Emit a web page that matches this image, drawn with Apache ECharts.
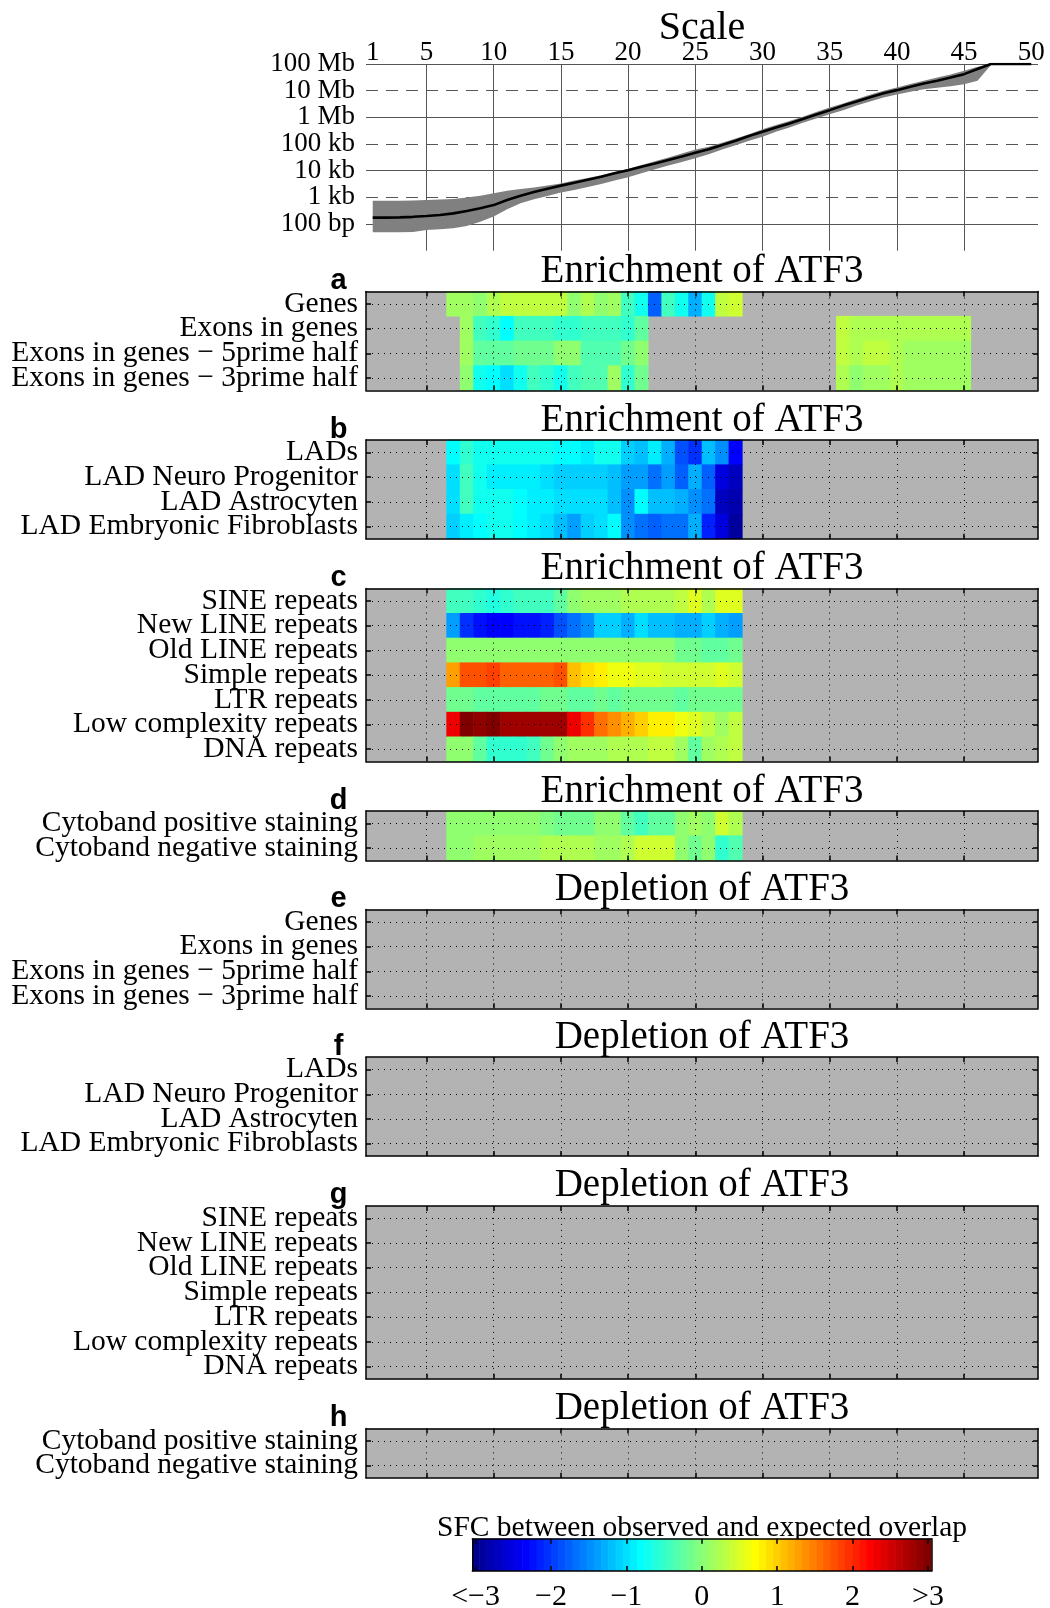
<!DOCTYPE html>
<html>
<head>
<meta charset="utf-8">
<script src="https://cdn.jsdelivr.net/npm/echarts@6/dist/echarts.min.js"></script>
<style>
html,body{margin:0;padding:0;background:#ffffff;}
#chart{width:1050px;height:1608px;}
</style>
</head>
<body>
<div id="chart"></div>
<script>
const _ = null;

// ---------- Scale panel data ----------
const binIndex = [1,2,3,4,5,6,7,8,9,10,11,12,13,14,15,16,17,18,19,20,21,22,23,24,25,26,27,28,29,30,31,32,33,34,35,36,37,38,39,40,41,42,43,44,45,46,47,48,49,50];
const topTickValues = [1,5,10,15,20,25,30,35,40,45,50];
const gridTickValues = [5,10,15,20,25,30,35,40,45];
const sizeTickExp = [2,3,4,5,6,7,8];
const sizeTickLabels = ['100 bp','1 kb','10 kb','100 kb','1 Mb','10 Mb','100 Mb'];
// log10(bp)
const medianLog10 = [2.24,2.24,2.25,2.27,2.30,2.34,2.40,2.49,2.59,2.71,
  2.90,3.06,3.20,3.32,3.44,3.55,3.66,3.77,3.90,4.02,
  4.15,4.27,4.40,4.53,4.67,4.80,4.96,5.12,5.30,5.46,
  5.62,5.77,5.94,6.11,6.27,6.44,6.59,6.75,6.90,7.02,
  7.15,7.27,7.37,7.49,7.62,7.81,8.00,8.00,8.00,8.00];
const upperLog10 = [2.87,2.87,2.87,2.88,2.90,2.92,2.94,2.99,3.06,3.15,
  3.25,3.31,3.37,3.44,3.52,3.63,3.73,3.83,3.95,4.07,
  4.21,4.35,4.49,4.64,4.79,4.90,5.05,5.21,5.37,5.55,
  5.71,5.86,6.02,6.20,6.37,6.52,6.69,6.85,7.00,7.12,
  7.25,7.37,7.49,7.61,7.75,7.90,8.00,8.00,8.00,8.00];
const lowerLog10 = [1.69,1.69,1.69,1.70,1.78,1.80,1.84,1.93,2.09,2.28,
  2.55,2.78,2.93,3.05,3.18,3.28,3.39,3.50,3.63,3.75,
  3.90,4.05,4.19,4.33,4.47,4.62,4.79,4.95,5.12,5.27,
  5.46,5.62,5.80,5.96,6.12,6.27,6.44,6.59,6.74,6.86,
  6.96,7.05,7.11,7.17,7.24,7.37,7.96,8.00,8.00,8.00];

// ---------- Row labels ----------
const labelsGenes = ['Genes','Exons in genes','Exons in genes \u2212 5prime half','Exons in genes \u2212 3prime half'];
const labelsLAD = ['LADs','LAD Neuro Progenitor','LAD Astrocyten','LAD Embryonic Fibroblasts'];
const labelsRepeats = ['SINE repeats','New LINE repeats','Old LINE repeats','Simple repeats','LTR repeats','Low complexity repeats','DNA repeats'];
const labelsCyto = ['Cytoband positive staining','Cytoband negative staining'];

// ---------- Enrichment values (SFC), null = not significant ----------
const enrGenes = [_,_,_,_,_, _,0.1,0.1,0.0,0.2, 0.3,0.3,0.3,0.3,0.3, 0.0,0.25,0.05,0.1,-0.4, -0.75,-1.7,-0.4,-0.75,-1.3, -0.75,0.35,0.45,_,_, _,_,_,_,_, _,_,_,_,_, _,_,_,_,_, _,_,_,_,_];
const enrExons = [_,_,_,_,_, _,_,0.1,-0.4,-0.55, -0.8,-0.4,-0.4,-0.4,-0.5, -0.55,-0.4,-0.4,-0.4,-0.55, -0.2,_,_,_,_, _,_,_,_,_, _,_,_,_,_, 0.3,0.25,0.25,0.25,0.25, 0.2,0.2,0.2,0.2,0.2, _,_,_,_,_];
const enrExons5 = [_,_,_,_,_, _,_,0.1,-0.2,-0.2, -0.2,-0.15,-0.15,-0.1,0.0, 0.0,-0.3,-0.3,-0.3,-0.1, 0.05,_,_,_,_, _,_,_,_,_, _,_,_,_,_, 0.3,0.2,0.3,0.3,0.25, 0.15,0.15,0.15,0.15,0.15, _,_,_,_,_];
const enrExons3 = [_,_,_,_,_, _,_,0.0,-0.75,-0.8, -1.0,-0.75,-0.45,-0.5,-0.75, -0.45,-0.35,-0.3,0.1,-0.5, -0.1,_,_,_,_, _,_,_,_,_, _,_,_,_,_, 0.2,0.05,0.1,0.15,0.2, 0.1,0.15,0.15,0.15,0.15, _,_,_,_,_];

const enrLADs = [_,_,_,_,_, _,-0.8,-0.55,-0.75,-0.75, -0.75,-0.75,-0.75,-0.75,-0.8, -0.8,-0.85,-0.75,-0.75,-1.1, -1.2,-0.9,-1.3,-1.85,-2.0, -1.2,-1.5,-2.3,_,_, _,_,_,_,_, _,_,_,_,_, _,_,_,_,_, _,_,_,_,_];
const enrLADNeuro = [_,_,_,_,_, _,-1.0,-0.45,-0.7,-0.9, -0.9,-0.9,-0.9,-0.95,-1.05, -1.05,-1.1,-1.1,-1.2,-1.4, -1.4,-1.6,-1.4,-1.7,-1.3, -1.7,-2.45,-2.7,_,_, _,_,_,_,_, _,_,_,_,_, _,_,_,_,_, _,_,_,_,_];
const enrLADAstro = [_,_,_,_,_, _,-1.0,-0.45,-0.7,-0.75, -0.75,-0.8,-0.85,-0.9,-1.0, -1.0,-1.0,-1.0,-1.2,-1.5, -0.8,-1.15,-1.15,-1.3,-1.5, -1.6,-2.65,-2.8,_,_, _,_,_,_,_, _,_,_,_,_, _,_,_,_,_, _,_,_,_,_];
const enrLADFibro = [_,_,_,_,_, _,-1.05,-0.9,-0.8,-0.75, -0.75,-0.8,-0.9,-1.0,-1.15, -1.4,-1.1,-0.95,-0.8,-1.5, -1.6,-1.7,-1.6,-1.6,-1.3, -2.1,-2.45,-2.9,_,_, _,_,_,_,_, _,_,_,_,_, _,_,_,_,_, _,_,_,_,_];

const enrSINE = [_,_,_,_,_, _,-0.4,-0.4,-0.55,-0.6, -0.55,-0.45,-0.45,-0.4,-0.2, 0.0,0.1,0.15,0.15,0.2, 0.2,0.25,0.25,0.35,0.55, 0.25,0.55,0.55,_,_, _,_,_,_,_, _,_,_,_,_, _,_,_,_,_, _,_,_,_,_];
const enrNewLINE = [_,_,_,_,_, _,-1.4,-2.0,-2.2,-2.3, -2.3,-2.2,-2.25,-2.1,-1.85, -1.6,-1.5,-1.05,-1.05,-1.3, -1.0,-1.15,-1.15,-1.3,-1.3, -1.1,-1.25,-1.35,_,_, _,_,_,_,_, _,_,_,_,_, _,_,_,_,_, _,_,_,_,_];
const enrOldLINE = [_,_,_,_,_, _,0.05,0.05,0.05,0.05, 0.05,0.05,0.05,0.05,0.05, 0.05,0.05,0.05,0.05,0.0, 0.0,0.0,0.0,-0.1,-0.15, -0.2,-0.2,-0.1,_,_, _,_,_,_,_, _,_,_,_,_, _,_,_,_,_, _,_,_,_,_];
const enrSimple = [_,_,_,_,_, _,1.3,1.7,1.75,1.8, 1.6,1.6,1.6,1.6,1.7, 1.1,0.85,0.75,0.65,0.6, 0.5,0.5,0.45,0.45,0.4, 0.45,0.5,0.4,_,_, _,_,_,_,_, _,_,_,_,_, _,_,_,_,_, _,_,_,_,_];
const enrLTR = [_,_,_,_,_, _,-0.1,-0.15,-0.2,-0.2, -0.2,-0.2,-0.2,-0.15,-0.1, -0.2,-0.2,-0.15,-0.2,-0.15, -0.1,-0.15,-0.15,-0.2,-0.1, -0.15,-0.1,-0.1,_,_, _,_,_,_,_, _,_,_,_,_, _,_,_,_,_, _,_,_,_,_];
const enrLowCx = [_,_,_,_,_, _,2.25,3.0,2.9,2.95, 2.8,2.8,2.8,2.8,2.75, 2.25,1.9,1.55,1.4,1.2, 1.0,0.8,0.75,0.6,0.5, 0.35,0.1,0.3,_,_, _,_,_,_,_, _,_,_,_,_, _,_,_,_,_, _,_,_,_,_];
const enrDNA = [_,_,_,_,_, _,0.05,0.0,-0.2,-0.55, -0.55,-0.55,-0.4,-0.1,0.05, 0.15,0.15,0.15,0.2,0.25, 0.25,0.3,0.3,0.1,-0.2, 0.1,0.25,0.3,_,_, _,_,_,_,_, _,_,_,_,_, _,_,_,_,_, _,_,_,_,_];

const enrCytoPos = [_,_,_,_,_, _,0.05,0.05,0.0,0.0, 0.0,0.0,0.0,-0.05,-0.1, -0.1,-0.1,0.05,0.05,-0.25, -0.4,-0.25,-0.25,0.05,0.15, 0.0,0.4,0.25,_,_, _,_,_,_,_, _,_,_,_,_, _,_,_,_,_, _,_,_,_,_];
const enrCytoNeg = [_,_,_,_,_, _,0.05,0.05,0.1,0.1, 0.1,0.1,0.1,0.2,0.2, 0.25,0.25,0.1,0.1,0.2, 0.4,0.4,0.4,0.05,-0.1, 0.05,-0.55,-0.3,_,_, _,_,_,_,_, _,_,_,_,_, _,_,_,_,_, _,_,_,_,_];

// Depletion: no significant cells in any row
const depGenes = [[],[],[],[]];
const depLAD = [[],[],[],[]];
const depRepeats = [[],[],[],[],[],[],[]];
const depCyto = [[],[]];

const colorbarTicks = [-3,-2,-1,0,1,2,3];
const colorbarTickLabels = ['<\u22123','\u22122','\u22121','0','1','2','>3'];

// ---------- Jet colormap (MATLAB jet(64)) ----------
function jetPalette(m){
  const n = Math.ceil(m/4);
  const u = [];
  for (let i=1;i<=n;i++) u.push(i/n);
  for (let i=1;i<n;i++) u.push(1);
  for (let i=n;i>=1;i--) u.push(i/n);
  const g0 = Math.ceil(n/2) - (m%4===1?1:0);
  const cols = [];
  for (let i=0;i<m;i++) cols.push([0,0,0]);
  u.forEach((val,k)=>{
    const g=g0+k+1, r=g+n, b=g-n;
    if(r>=1&&r<=m) cols[r-1][0]=val;
    if(g>=1&&g<=m) cols[g-1][1]=val;
    if(b>=1&&b<=m) cols[b-1][2]=val;
  });
  return cols.map(c=>'rgb('+c.map(x=>Math.round(x*255)).join(',')+')');
}
const JET = jetPalette(64);
const CMIN=-3, CMAX=3;
function jetColor(v){
  let i = Math.floor((v-CMIN)/(CMAX-CMIN)*64);
  i = Math.max(0, Math.min(63, i));
  return JET[i];
}

// ---------- Layout ----------
const SERIF = '"Liberation Serif","Times New Roman",serif';
const SANS = '"Liberation Sans",Arial,sans-serif';
const LEFT = 366, WIDTH = 672, CX = LEFT + WIDTH/2;
const ROW_H = 24.7;
const panelTops = [291.5, 440, 588.6, 811, 909.5, 1057.2, 1205.9, 1428.4];

const panels = [
  {letter:'a', title:'Enrichment of ATF3', labels:labelsGenes, rows:[enrGenes,enrExons,enrExons5,enrExons3]},
  {letter:'b', title:'Enrichment of ATF3', labels:labelsLAD, rows:[enrLADs,enrLADNeuro,enrLADAstro,enrLADFibro]},
  {letter:'c', title:'Enrichment of ATF3', labels:labelsRepeats, rows:[enrSINE,enrNewLINE,enrOldLINE,enrSimple,enrLTR,enrLowCx,enrDNA]},
  {letter:'d', title:'Enrichment of ATF3', labels:labelsCyto, rows:[enrCytoPos,enrCytoNeg]},
  {letter:'e', title:'Depletion of ATF3', labels:labelsGenes, rows:depGenes},
  {letter:'f', title:'Depletion of ATF3', labels:labelsLAD, rows:depLAD},
  {letter:'g', title:'Depletion of ATF3', labels:labelsRepeats, rows:depRepeats},
  {letter:'h', title:'Depletion of ATF3', labels:labelsCyto, rows:depCyto}
];

const grid=[], xAxis=[], yAxis=[], series=[], graphic=[];
const GRIDLINE = '#555555';
const LABEL_SCALE = {show:true, showMinLabel:true, showMaxLabel:true, hideOverlap:false,
  formatter:(v)=>sizeTickLabels[sizeTickExp.indexOf(Math.round(v))],
  fontSize:27, fontFamily:SERIF, color:'#000', margin:11};

// ---------- Scale plot ----------
grid.push({left:LEFT, top:64, width:WIDTH, height:186.7, containLabel:false, outerBoundsMode:'none'});
xAxis.push({type:'value', gridIndex:0, position:'top', min:0.5, max:50.5,
  axisLine:{show:false, onZero:false},
  axisTick:{show:false, customValues:gridTickValues},
  axisLabel:{show:true, customValues:topTickValues, showMinLabel:true, showMaxLabel:true, hideOverlap:false,
    fontSize:27, fontFamily:SERIF, color:'#000', margin:-2},
  splitLine:{show:true, lineStyle:{color:GRIDLINE, width:1}}
});
// solid decades (100 bp, 10 kb, 1 Mb, 100 Mb)
yAxis.push({type:'value', gridIndex:0, position:'left', min:1, max:8,
  axisLine:{show:false, onZero:false},
  axisTick:{show:false, customValues:[2,4,6,8]},
  axisLabel:Object.assign({customValues:[2,4,6,8]}, LABEL_SCALE),
  splitLine:{show:true, lineStyle:{color:GRIDLINE, width:1}}
});
// dashed decades (1 kb, 100 kb, 10 Mb)
yAxis.push({type:'value', gridIndex:0, position:'left', min:1, max:8,
  axisLine:{show:false, onZero:false},
  axisTick:{show:false, customValues:[3,5,7]},
  axisLabel:Object.assign({customValues:[3,5,7]}, LABEL_SCALE),
  splitLine:{show:true, lineStyle:{color:GRIDLINE, width:1, type:[12,8]}}
});
series.push({type:'custom', xAxisIndex:0, yAxisIndex:0, silent:true, z:2,
  data:[[binIndex[0], medianLog10[0]]], encode:{x:0, y:1},
  renderItem:(params, api)=>{
    const pts=[];
    for (let i=0;i<binIndex.length;i++) pts.push(api.coord([binIndex[i], upperLog10[i]]));
    for (let i=binIndex.length-1;i>=0;i--) pts.push(api.coord([binIndex[i], lowerLog10[i]]));
    return {type:'polygon', shape:{points:pts}, style:{fill:'#808080'}};
  }
});
series.push({type:'line', xAxisIndex:0, yAxisIndex:0, silent:true, z:3, symbol:'none',
  data: binIndex.map((x,i)=>[x, medianLog10[i]]),
  lineStyle:{color:'#000', width:2.6}
});
graphic.push({type:'text', x:CX, y:28, silent:true,
  style:{text:'Scale', fill:'#000', fontSize:40, fontFamily:SERIF, textAlign:'center', textVerticalAlign:'middle'}});

// ---------- Heatmap panels ----------
function cellRender(params, api){
  const x=api.value(0), y=api.value(1), v=api.value(2);
  const p0=api.coord([x-0.5, y-0.5]), p1=api.coord([x+0.5, y+0.5]);
  return {type:'rect',
    shape:{x:Math.min(p0[0],p1[0])-0.3, y:Math.min(p0[1],p1[1])-0.3,
           width:Math.abs(p1[0]-p0[0])+0.6, height:Math.abs(p1[1]-p0[1])+0.6},
    style:{fill:jetColor(v)}};
}
const BOX = {color:'#000', width:1.5};
const DOT = {color:'#000', width:1, type:[1,5]};

panels.forEach((p, k)=>{
  const top = panelTops[k];
  const n = p.labels.length;
  const rowVals = p.labels.map((l,i)=>i+1);
  const oddRows = rowVals.filter(v=>v%2===1);
  const evenRows = rowVals.filter(v=>v%2===0);
  const rowLabel = (cv)=>({show:true, customValues:cv, showMinLabel:true, showMaxLabel:true, hideOverlap:false,
      formatter:(v)=>p.labels[Math.round(v)-1],
      fontSize:29.5, fontFamily:SERIF, color:'#000', margin:8});
  grid.push({left:LEFT, top:top, width:WIDTH, height:n*ROW_H, show:true, backgroundColor:'#b3b3b3', borderWidth:0, containLabel:false, outerBoundsMode:'none'});
  const gi = grid.length-1;
  const xi = xAxis.length, yi = yAxis.length;
  xAxis.push({type:'value', gridIndex:gi, position:'bottom', min:0.5, max:50.5, z:5,
    axisLine:{show:true, onZero:false, lineStyle:BOX},
    axisTick:{show:true, inside:true, length:5, lineStyle:BOX, customValues:gridTickValues},
    axisLabel:{show:false},
    splitLine:{show:true, lineStyle:DOT}});
  xAxis.push({type:'value', gridIndex:gi, position:'top', min:0.5, max:50.5, z:5,
    axisLine:{show:true, onZero:false, lineStyle:BOX},
    axisTick:{show:true, inside:true, length:5, lineStyle:BOX, customValues:gridTickValues},
    axisLabel:{show:false}, splitLine:{show:false}});
  yAxis.push({type:'value', gridIndex:gi, position:'left', min:0.5, max:n+0.5, inverse:true, z:5,
    axisLine:{show:true, onZero:false, lineStyle:BOX},
    axisTick:{show:true, inside:true, length:5, lineStyle:BOX, customValues:rowVals},
    axisLabel:rowLabel(oddRows),
    splitLine:{show:true, lineStyle:DOT}});
  yAxis.push({type:'value', gridIndex:gi, position:'right', min:0.5, max:n+0.5, inverse:true, z:5,
    axisLine:{show:true, onZero:false, lineStyle:BOX},
    axisTick:{show:true, inside:true, length:5, lineStyle:BOX, customValues:rowVals},
    axisLabel:{show:false}, splitLine:{show:false}});
  if (evenRows.length) {
    yAxis.push({type:'value', gridIndex:gi, position:'left', min:0.5, max:n+0.5, inverse:true, z:5,
      axisLine:{show:false, onZero:false},
      axisTick:{show:false, customValues:evenRows},
      axisLabel:rowLabel(evenRows),
      splitLine:{show:false}});
  }
  const cells=[];
  p.rows.forEach((row,r)=>row.forEach((v,c)=>{ if(v!==null && v!==undefined) cells.push([binIndex[c], r+1, v]); }));
  if (cells.length) {
    series.push({type:'custom', xAxisIndex:xi, yAxisIndex:yi, silent:true, z:2,
      data:cells, encode:{x:0, y:1}, renderItem:cellRender});
  }
  graphic.push({type:'text', x:CX, y:top-19.7, silent:true,
    style:{text:p.title, fill:'#000', fontSize:39, fontFamily:SERIF, textAlign:'center', textVerticalAlign:'middle'}});
  graphic.push({type:'text', x:338.5, y:top-10.5, silent:true,
    style:{text:p.letter, fill:'#000', fontSize:29, fontWeight:'bold', fontFamily:SANS, textAlign:'center', textVerticalAlign:'middle'}});
});

// ---------- Colorbar ----------
const CB_MIN=-3.044, CB_MAX=3.044;
grid.push({left:472.3, top:1538.7, width:459, height:32.3, containLabel:false, outerBoundsMode:'none'});
const cgi = grid.length-1;
const cxi = xAxis.length, cyi = yAxis.length;
xAxis.push({type:'value', gridIndex:cgi, position:'bottom', min:CB_MIN, max:CB_MAX, z:5,
  axisLine:{show:true, onZero:false, lineStyle:BOX},
  axisTick:{show:true, inside:true, length:5, lineStyle:BOX, customValues:colorbarTicks},
  axisLabel:{show:true, customValues:colorbarTicks, showMinLabel:true, showMaxLabel:true, hideOverlap:false,
    formatter:(v)=>colorbarTickLabels[colorbarTicks.indexOf(Math.round(v))],
    fontSize:30, fontFamily:SERIF, color:'#000', margin:11},
  splitLine:{show:false}});
xAxis.push({type:'value', gridIndex:cgi, position:'top', min:CB_MIN, max:CB_MAX, z:5,
  axisLine:{show:true, onZero:false, lineStyle:BOX},
  axisTick:{show:true, inside:true, length:5, lineStyle:BOX, customValues:colorbarTicks},
  axisLabel:{show:false}, splitLine:{show:false}});
yAxis.push({type:'value', gridIndex:cgi, position:'left', min:0, max:1, z:5,
  axisLine:{show:true, onZero:false, lineStyle:BOX}, axisTick:{show:false}, axisLabel:{show:false}, splitLine:{show:false}});
yAxis.push({type:'value', gridIndex:cgi, position:'right', min:0, max:1, z:5,
  axisLine:{show:true, onZero:false, lineStyle:BOX}, axisTick:{show:false}, axisLabel:{show:false}, splitLine:{show:false}});
const binW = (CB_MAX-CB_MIN)/JET.length;
series.push({type:'custom', xAxisIndex:cxi, yAxisIndex:cyi, silent:true, z:2,
  data: JET.map((c,i)=>[CB_MIN+(i+0.5)*binW, 0.5, i]), encode:{x:0, y:1},
  renderItem:(params, api)=>{
    const xc=api.value(0), i=api.value(2);
    const p0=api.coord([xc-binW/2, 0]), p1=api.coord([xc+binW/2, 1]);
    return {type:'rect', shape:{x:Math.min(p0[0],p1[0])-0.3, y:Math.min(p0[1],p1[1]), width:Math.abs(p1[0]-p0[0])+0.6, height:Math.abs(p1[1]-p0[1])},
      style:{fill:JET[i]}};
  }
});
graphic.push({type:'text', x:CX, y:1528, silent:true,
  style:{text:'SFC between observed and expected overlap', fill:'#000', fontSize:29.5, fontFamily:SERIF, textAlign:'center', textVerticalAlign:'middle'}});

const chart = echarts.init(document.getElementById('chart'), null, {renderer:'canvas', width:1050, height:1608});
chart.setOption({
  backgroundColor:'#ffffff',
  animation:false,
  grid, xAxis, yAxis, series, graphic
});
</script>
</body>
</html>
